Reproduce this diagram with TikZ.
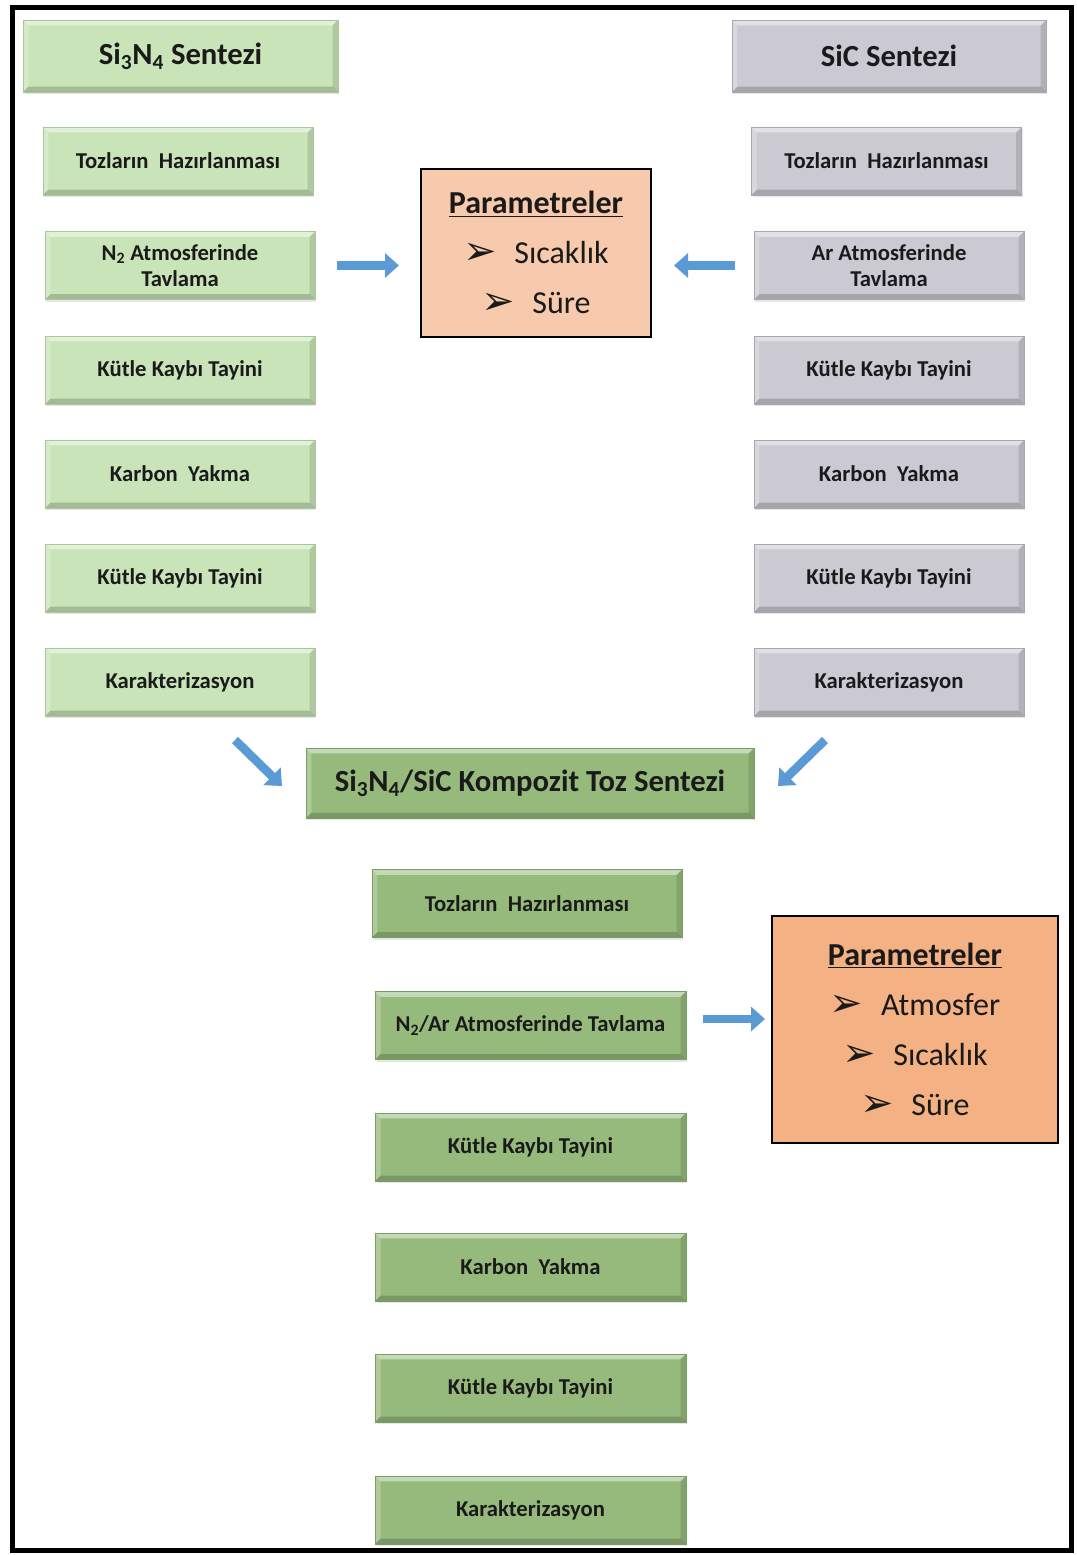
\documentclass[tikz,border=0pt]{standalone}
\usepackage{fontspec}
\setmainfont{Carlito}
\newfontfamily\dingfont{DejaVu Sans}
\usetikzlibrary{arrows.meta,calc,shadows}
\definecolor{lgreen}{HTML}{C9E4B8}
\definecolor{lgreenD}{HTML}{A9C897}
\definecolor{lgrey}{HTML}{CBCAD3}
\definecolor{lgreyD}{HTML}{A9A8B2}
\definecolor{dgreen}{HTML}{95BA7C}
\definecolor{dgreenD}{HTML}{789E60}
\definecolor{peachA}{HTML}{F8CAAD}
\definecolor{peachB}{HTML}{F4B183}
\definecolor{arrowblue}{HTML}{5B9BD5}
\definecolor{txt}{HTML}{1A1A1A}
\newcommand{\bul}{{\dingfont\fontsize{30}{30}\selectfont\raisebox{-0.5pt}{➢}}\hspace{0.55em}}
\begin{document}
\begin{tikzpicture}[x=0.75pt,y=-0.75pt,
  bevel/.style={path picture={
    \coordinate (bnw) at (path picture bounding box.north west);
    \coordinate (bne) at (path picture bounding box.north east);
    \coordinate (bsw) at (path picture bounding box.south west);
    \coordinate (bse) at (path picture bounding box.south east);
    \fill[white,opacity=.45] (bnw) -- (bne) -- ([shift={(-4pt,-4pt)}]bne) -- ([shift={(4pt,-4pt)}]bnw) -- cycle;
    \fill[white,opacity=.25] (bnw) -- ([shift={(4pt,-4pt)}]bnw) -- ([shift={(4pt,4pt)}]bsw) -- (bsw) -- cycle;
    \fill[black,opacity=.12] (bne) -- ([shift={(-4pt,-4pt)}]bne) -- ([shift={(-4pt,4pt)}]bse) -- (bse) -- cycle;
    \fill[black,opacity=.18] (bsw) -- ([shift={(4pt,4pt)}]bsw) -- ([shift={(-4pt,4pt)}]bse) -- (bse) -- cycle;
  }},
  basebox/.style={rectangle, inner sep=0pt, align=center, text=txt, bevel,
    line width=0.5pt, drop shadow={shadow xshift=1pt, shadow yshift=-1.5pt, opacity=.2}},
  stepbox/.style={basebox, minimum width=202.5pt, minimum height=51pt,
    font=\bfseries\fontsize{17}{20}\selectfont},
  titlebox/.style={basebox, minimum height=54pt,
    font=\bfseries\fontsize{23}{28}\selectfont},
  lg/.style={fill=lgreen, draw=lgreenD},
  gy/.style={fill=lgrey, draw=lgreyD},
  dg/.style={fill=dgreen, draw=dgreenD},
  parambox/.style={rectangle, draw=black, line width=1.5pt, inner sep=0pt, align=center,
    text=txt, font=\fontsize{24}{37.5}\selectfont},
  barrow/.style={draw=arrowblue, line width=6.5pt, -{Triangle[length=10.5pt,width=18pt]}}
]
\useasboundingbox (0,0) rectangle (1076,1555);
\draw[line width=3.75pt] (12,8) rectangle (1071,1550);

% left column
\node[titlebox, lg, minimum width=236pt] (t1) at (180.5,56) {Si\textsubscript{3}N\textsubscript{4} Sentezi};
\node[stepbox, lg] (l1) at (178,161) {Tozların~ Hazırlanması};
\node[stepbox, lg] (l2) at (180,265.5) {N\textsubscript{2} Atmosferinde\\Tavlama};
\node[stepbox, lg] (l3) at (180,370) {Kütle Kaybı Tayini};
\node[stepbox, lg] (l4) at (180,474) {Karbon~ Yakma};
\node[stepbox, lg] (l5) at (180,578) {Kütle Kaybı Tayini};
\node[stepbox, lg] (l6) at (180,682) {Karakterizasyon};

% right column
\node[titlebox, gy, minimum width=235.5pt] (t2) at (889,56) {SiC Sentezi};
\node[stepbox, gy] (r1) at (886.5,161) {Tozların~ Hazırlanması};
\node[stepbox, gy] (r2) at (889,265.5) {Ar Atmosferinde\\Tavlama};
\node[stepbox, gy] (r3) at (889,370) {Kütle Kaybı Tayini};
\node[stepbox, gy] (r4) at (889,474) {Karbon~ Yakma};
\node[stepbox, gy] (r5) at (889,578) {Kütle Kaybı Tayini};
\node[stepbox, gy] (r6) at (889,682) {Karakterizasyon};

% top parameters
\node[parambox, fill=peachA, minimum width=172.5pt, minimum height=126pt] (p1) at (536,253)
  {\textbf{\underline{Parametreler}}\\ \bul Sıcaklık\\ \bul Süre};

\draw[barrow, shorten <=16.5pt, shorten >=15.75pt] (l2.east) -- (l2.east -| p1.west);
\draw[barrow, shorten <=14.25pt, shorten >=16.5pt] (r2.west) -- (r2.west -| p1.east);

% composite
\node[titlebox, dg, minimum width=336pt, minimum height=52.5pt] (comp) at (530,783)
  {Si\textsubscript{3}N\textsubscript{4}/SiC Kompozit Toz Sentezi};

\coordinate (d1s) at (235,740);
\coordinate (d1e) at (282,786);
\coordinate (d2s) at (825,740);
\coordinate (d2e) at (778,786);
\draw[barrow] (d1s) -- (d1e);
\draw[barrow] (d2s) -- (d2e);

% bottom column
\node[stepbox, dg, minimum width=232.5pt] (b1) at (527,903.5) {Tozların~ Hazırlanması};
\node[stepbox, dg, minimum width=233pt] (b2) at (530.5,1025.5) {N\textsubscript{2}/Ar Atmosferinde Tavlama};
\node[stepbox, dg, minimum width=233pt] (b3) at (530.5,1147) {Kütle Kaybı Tayini};
\node[stepbox, dg, minimum width=233pt] (b4) at (530.5,1267) {Karbon~ Yakma};
\node[stepbox, dg, minimum width=233pt] (b5) at (530.5,1388) {Kütle Kaybı Tayini};
\node[stepbox, dg, minimum width=233pt] (b6) at (530.5,1510) {Karakterizasyon};

% bottom parameters
\node[parambox, fill=peachB, minimum width=214.5pt, minimum height=170pt] (p2) at (915,1029.5)
  {\textbf{\underline{Parametreler}}\\ \bul Atmosfer\\ \bul Sıcaklık\\ \bul Süre};

\draw[barrow, shorten <=12.75pt, shorten >=4.5pt] (b2.east |- 0,1019) -- (p2.west |- 0,1019);
\end{tikzpicture}
\end{document}
